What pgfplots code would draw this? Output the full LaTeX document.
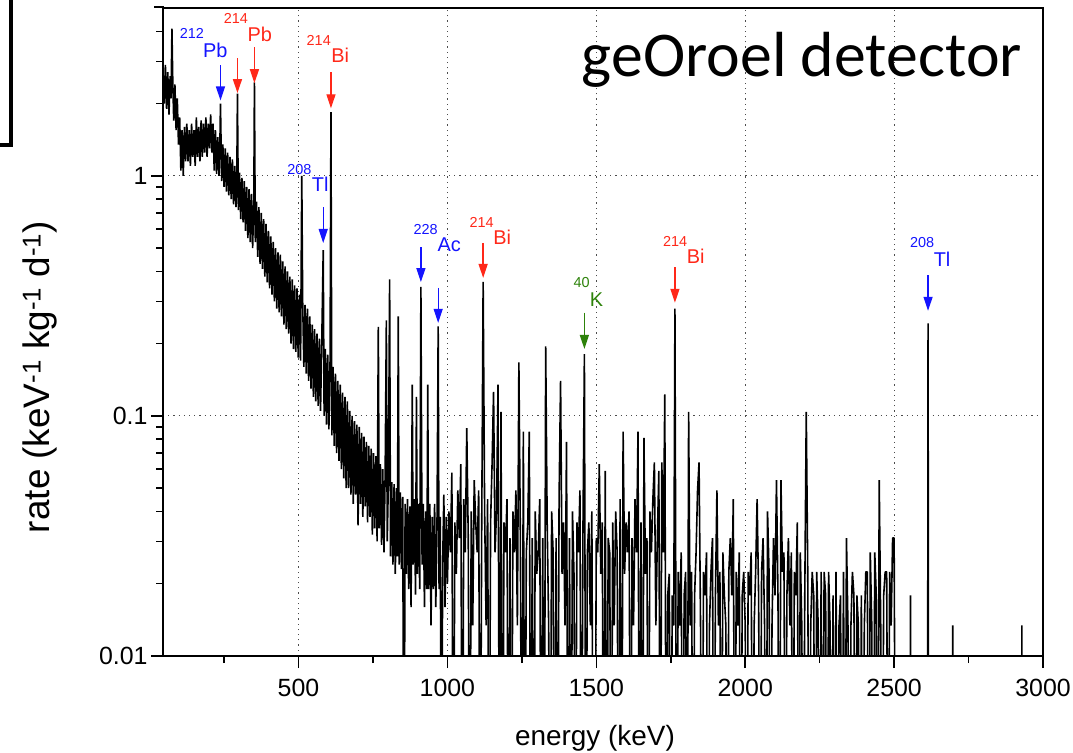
\documentclass[border=0pt]{standalone}
\usepackage{fontspec}
\setmainfont{Liberation Sans}
\newfontfamily\calibri{Carlito}
\usepackage{pgfplots}
\pgfplotsset{compat=1.18}
\usetikzlibrary{arrows.meta}
\definecolor{lblue}{RGB}{20,20,255}
\definecolor{lred}{RGB}{255,40,25}
\definecolor{lgreen}{RGB}{45,130,10}
\begin{document}
\begin{tikzpicture}[x=1bp,y=1bp]
\useasboundingbox (0,0) rectangle (1073,753);
\begin{axis}[
 at={(163bp,97bp)}, anchor=south west,
 width=880bp, height=648bp, scale only axis,
 xmin=45, xmax=3000, ymode=log, ymin=0.01, ymax=5,
 xtick={500,1000,1500,2000,2500,3000},
 xticklabels={500,1000,1500,2000,2500,3000},
 minor xtick={250,750,1250,1750,2250,2750},
 ytick={0.01,0.1,1}, yticklabels={0.01,0.1,1},
 minor ytick={0.02,0.03,0.04,0.05,0.06,0.07,0.08,0.09,0.2,0.3,0.4,0.5,0.6,0.7,0.8,0.9,2,3,4},
 tick pos=left, tick align=outside,
 major tick length=12bp, minor tick length=7bp,
 tick style={black, line width=1.5bp},
 axis line style={line width=1.8bp},
 grid=major, major grid style={gray!60!black, line width=1bp, dash pattern=on 1.2bp off 4bp},
 tick label style={font=\fontsize{25}{30}\selectfont},
 xticklabel style={yshift=-8bp},
 xlabel={energy (keV)},
 ylabel={rate (keV\textsuperscript{-1} kg\textsuperscript{-1} d\textsuperscript{-1})},
 xlabel style={font=\fontsize{28}{34}\selectfont, at={(axis description cs:0.4909,-0.1265)}, anchor=center},
 ylabel style={font=\fontsize{37}{42}\selectfont, at={(axis description cs:-0.1398,0.4306)}, anchor=center},
]
\addplot[black, line width=1.6bp, mark=none, line join=bevel] coordinates {
(45,2.7)(49,2.0)(53,2.9)(57,1.9)(61,2.7)(65,1.8)(69,2.6)(72,2.1)(75,4.1)(78,2.4)
(81,1.7)(85,2.4)(89,1.55)(93,2.1)(97,1.35)(101,1.75)(105,1.05)(109,1.55)(113,1.0)(117,1.6)
(121,1.15)(125,1.65)(129,1.15)(133,1.55)(137,1.1)(141,1.65)(145,1.2)(149,1.55)(153,1.1)(157,1.75)
(161,1.2)(165,1.6)(169,1.15)(173,1.7)(177,1.2)(181,1.65)(185,1.25)(189,1.75)(193,1.2)(197,1.65)
(201,1.3)(205,1.8)(209,1.25)(213,1.65)(217,1.05)(221,1.55)(225,1.02)(229,1.45)(233,1.0)(236,1.35)
(238,2.0)(242,0.95)(246,1.35)(250,0.9)(254,1.3)(258,0.86)(262,1.25)(266,0.83)(270,1.2)(274,0.8)
(278,1.17)(282,0.76)(286,1.1)(290,0.74)(293,1.05)(295,2.2)(298,0.72)(302,1.03)(306,0.66)(310,0.98)
(314,0.64)(318,0.95)(322,0.59)(326,0.9)(330,0.55)(334,0.88)(338,0.53)(342,0.84)(346,0.5)(350,0.8)
(352,2.45)(355,0.53)(359,0.78)(363,0.46)(367,0.74)(371,0.43)(375,0.7)(379,0.41)(383,0.66)(387,0.38)
(391,0.63)(395,0.36)(399,0.59)(403,0.34)(407,0.56)(411,0.32)(415,0.53)(419,0.3)(423,0.5)(427,0.28)
(431,0.48)(435,0.27)(439,0.47)(443,0.26)(447,0.44)(451,0.24)(455,0.42)(459,0.23)(463,0.4)(467,0.22)
(471,0.38)(475,0.2)(479,0.37)(483,0.19)(487,0.35)(491,0.185)(495,0.34)(499,0.175)(503,0.32)(507,0.17)
(511,1.0)(514,0.3)(518,0.16)(522,0.29)(526,0.15)(530,0.28)(534,0.14)(538,0.26)(542,0.13)(546,0.24)
(550,0.12)(554,0.23)(558,0.115)(562,0.22)(566,0.11)(570,0.21)(574,0.105)(578,0.2)(583,0.49)(586,0.1)
(590,0.19)(594,0.092)(598,0.18)(602,0.088)(606,0.17)(609,1.84)(612,0.083)(616,0.16)(620,0.075)(624,0.15)
(628,0.07)(632,0.14)(636,0.065)(640,0.135)(644,0.06)(648,0.125)(652,0.055)(656,0.12)(660,0.05)(664,0.115)
(668,0.05)(672,0.105)(676,0.047)(680,0.1)(684,0.043)(688,0.095)(692,0.047)(696,0.092)(700,0.035)(704,0.09)
(708,0.043)(712,0.085)(716,0.038)(720,0.082)(724,0.042)(728,0.078)(732,0.036)(736,0.075)(740,0.038)(744,0.073)
(748,0.032)(752,0.07)(756,0.034)(760,0.068)(764,0.03)(768,0.235)(771,0.034)(775,0.063)(779,0.029)(783,0.06)
(787,0.027)(791,0.058)(795,0.25)(798,0.03)(802,0.055)(806,0.37)(809,0.026)(813,0.053)(817,0.024)(821,0.052)
(825,0.022)(829,0.05)(832,0.026)(835,0.26)(838,0.024)(842,0.048)(846,0.023)(850,0.046)(854,0.001)(858,0.043)
(862,0.022)(866,0.045)(870,0.019)(874,0.042)(878,0.016)(882,0.135)(885,0.024)(889,0.045)(893,0.018)(896,0.12)
(899,0.022)(903,0.043)(907,0.019)(911,0.345)(915,0.024)(919,0.043)(923,0.016)(927,0.04)(931,0.019)(934,0.135)
(937,0.019)(941,0.043)(945,0.0134)(949,0.038)(953,0.019)(957,0.043)(961,0.016)(965,0.034)(969,0.236)(972,0.019)
(976,0.038)(980,0.001)(984,0.024)(988,0.047)(992,0.016)(996,0.038)(1000,0.02)
(1005,0.040)(1010,0.027)(1015,0.058)(1020,0.001)(1025,0.036)(1030,0.022)(1035,0.049)(1040,0.031)(1045,0.063)(1050,0.001)
(1055,0.045)(1060,0.027)(1065,0.089)(1070,0.031)(1075,0.001)(1080,0.040)(1085,0.0134)(1090,0.054)(1095,0.036)(1100,0.027)
(1105,0.049)(1110,0.001)(1115,0.031)(1120,0.362)(1125,0.040)(1130,0.0134)(1135,0.045)(1140,0.001)(1145,0.036)(1150,0.063)
(1155,0.126)(1160,0.027)(1165,0.040)(1170,0.135)(1175,0.001)(1180,0.104)(1185,0.001)(1190,0.036)(1195,0.027)(1200,0.045)
(1205,0.001)(1210,0.031)(1215,0.001)(1220,0.040)(1225,0.027)(1230,0.049)(1235,0.0134)(1240,0.167)(1245,0.031)(1250,0.001)
(1255,0.086)(1260,0.001)(1265,0.027)(1270,0.036)(1275,0.086)(1280,0.001)(1285,0.031)(1290,0.001)(1295,0.040)(1300,0.022)
(1305,0.027)(1310,0.045)(1315,0.001)(1320,0.031)(1325,0.001)(1330,0.195)(1335,0.036)(1340,0.0134)(1345,0.001)(1350,0.040)
(1355,0.027)(1360,0.001)(1365,0.031)(1370,0.001)(1375,0.045)(1380,0.140)(1385,0.022)(1390,0.036)(1395,0.0134)(1400,0.078)
(1405,0.001)(1410,0.031)(1415,0.001)(1420,0.040)(1425,0.022)(1430,0.001)(1435,0.036)(1440,0.027)(1445,0.049)(1450,0.001)
(1455,0.031)(1460,0.181)(1465,0.001)(1470,0.027)(1475,0.036)(1480,0.0134)(1485,0.040)(1490,0.001)(1495,0.001)(1500,0.031)
(1505,0.027)(1510,0.063)(1515,0.022)(1520,0.036)(1525,0.001)(1530,0.059)(1535,0.001)(1540,0.031)(1545,0.027)(1550,0.001)
(1555,0.036)(1560,0.0134)(1565,0.040)(1570,0.027)(1575,0.001)(1580,0.045)(1585,0.001)(1590,0.086)(1595,0.022)(1600,0.036)
(1605,0.027)(1610,0.040)(1615,0.001)(1620,0.031)(1625,0.0134)(1630,0.045)(1635,0.027)(1640,0.086)(1645,0.001)(1650,0.036)
(1655,0.001)(1660,0.081)(1665,0.022)(1670,0.031)(1675,0.001)(1680,0.040)(1685,0.027)(1690,0.045)(1695,0.064)(1700,0.0134)
(1705,0.031)(1710,0.059)(1715,0.001)(1720,0.064)(1725,0.027)(1730,0.123)(1735,0.001)(1740,0.018)(1745,0.022)(1750,0.001)
(1755,0.0179)(1760,0.0134)(1764,0.28)(1770,0.001)(1775,0.0224)(1780,0.0134)(1785,0.027)(1790,0.001)(1795,0.0179)(1800,0.0224)
(1805,0.001)(1810,0.104)(1815,0.0134)(1820,0.0224)(1825,0.001)(1830,0.0179)(1835,0.027)(1840,0.049)(1845,0.064)(1850,0.0134)
(1855,0.001)(1860,0.0224)(1865,0.0179)(1870,0.027)(1875,0.001)(1880,0.0134)(1885,0.0224)(1890,0.031)(1895,0.001)(1900,0.0179)
(1905,0.049)(1910,0.0134)(1915,0.0224)(1920,0.001)(1925,0.027)(1930,0.0179)(1935,0.0134)(1940,0.001)(1945,0.0224)(1950,0.031)
(1955,0.0179)(1960,0.045)(1965,0.001)(1970,0.0224)(1975,0.0134)(1980,0.027)(1985,0.001)(1990,0.0179)(1995,0.0224)(2000,0.0134)
(2005,0.001)(2010,0.0224)(2015,0.0179)(2020,0.027)(2025,0.001)(2030,0.0134)(2035,0.0224)(2040,0.045)(2045,0.0179)(2050,0.001)
(2055,0.0224)(2060,0.031)(2065,0.0134)(2070,0.001)(2075,0.040)(2080,0.0224)(2085,0.001)(2090,0.0134)(2095,0.031)(2100,0.0179)
(2105,0.054)(2110,0.0179)(2115,0.001)(2120,0.054)(2125,0.0224)(2130,0.027)(2135,0.001)(2140,0.0179)(2145,0.031)(2150,0.0134)
(2155,0.027)(2160,0.001)(2165,0.0224)(2170,0.0179)(2175,0.036)(2180,0.001)(2185,0.027)(2190,0.0134)(2195,0.001)(2200,0.0179)
(2205,0.104)(2210,0.0224)(2215,0.001)(2220,0.0134)(2225,0.0224)(2230,0.0179)(2235,0.001)(2240,0.0224)(2245,0.0134)(2250,0.001)
(2255,0.0224)(2260,0.001)(2265,0.0224)(2270,0.0179)(2275,0.001)(2280,0.0224)(2285,0.0134)(2290,0.001)(2295,0.0179)(2300,0.001)
(2305,0.0224)(2310,0.001)(2315,0.0134)(2320,0.0179)(2325,0.001)(2330,0.0224)(2335,0.001)(2340,0.031)(2345,0.0134)(2350,0.001)
(2355,0.0134)(2360,0.0224)(2365,0.0179)(2370,0.001)(2375,0.0179)(2380,0.0134)(2385,0.001)(2390,0.0179)(2395,0.001)(2400,0.0134)
(2405,0.0224)(2410,0.0224)(2415,0.001)(2420,0.027)(2425,0.0134)(2430,0.001)(2435,0.027)(2440,0.0179)(2445,0.001)(2450,0.054)
(2455,0.0134)(2460,0.001)(2465,0.0179)(2470,0.0224)(2475,0.0224)(2480,0.001)(2485,0.0224)(2490,0.0134)(2495,0.031)(2500,0.031)
(2505,0.001)(2552,0.001)(2555,0.0179)(2558,0.001)(2612,0.001)(2614,0.243)(2616,0.001)(2695,0.001)(2697,0.0134)(2699,0.001)
(2927,0.001)(2929,0.0134)(2931,0.001)(3000,0.001)
};
% annotations
\tikzset{numlab/.style={inner sep=0, font=\fontsize{14.5}{16}\selectfont},
         ellab/.style={inner sep=0, font=\fontsize{20}{22}\selectfont},
         pk/.style={line width=1.3bp, -{Triangle[length=14bp,width=9bp]}}}
\node[numlab, lblue] at (axis cs:141.8,3.92) {212};
\node[ellab, lblue] at (axis cs:220.7,3.33) {Pb};
\draw[pk, lblue] (axis cs:238,2.89) -- (axis cs:238,2.06);
\node[numlab, lred] at (axis cs:289.5,4.53) {214};
\node[ellab, lred] at (axis cs:370,3.88) {Pb};
\draw[pk, lred] (axis cs:295,3.09) -- (axis cs:295,2.21);
\draw[pk, lred] (axis cs:352,3.43) -- (axis cs:352,2.43);
\node[numlab, lred] at (axis cs:568,3.67) {214};
\node[ellab, lred] at (axis cs:640,3.19) {Bi};
\draw[pk, lred] (axis cs:609,2.70) -- (axis cs:609,1.91);
\node[numlab, lblue] at (axis cs:502.7,1.066) {208};
\node[ellab, lblue] at (axis cs:573,0.919) {Tl};
\draw[pk, lblue] (axis cs:583,0.741) -- (axis cs:583,0.525);
\node[numlab, lblue] at (axis cs:927,0.597) {228};
\node[ellab, lblue] at (axis cs:1006,0.5176) {Ac};
\draw[pk, lblue] (axis cs:911,0.505) -- (axis cs:911,0.361);
\draw[pk, lblue] (axis cs:969,0.341) -- (axis cs:969,0.244);
\node[numlab, lred] at (axis cs:1115,0.639) {214};
\node[ellab, lred] at (axis cs:1184,0.553) {Bi};
\draw[pk, lred] (axis cs:1120,0.525) -- (axis cs:1120,0.3755);
\node[numlab, lgreen] at (axis cs:1451,0.358) {40};
\node[ellab, lgreen] at (axis cs:1501,0.306) {K};
\draw[pk, lgreen] (axis cs:1460,0.269) -- (axis cs:1460,0.190);
\node[numlab, lred] at (axis cs:1765,0.532) {214};
\node[ellab, lred] at (axis cs:1834,0.461) {Bi};
\draw[pk, lred] (axis cs:1764,0.417) -- (axis cs:1764,0.296);
\node[numlab, lblue] at (axis cs:2594,0.525) {208};
\node[ellab, lblue] at (axis cs:2661,0.450) {Tl};
\draw[pk, lblue] (axis cs:2614,0.386) -- (axis cs:2614,0.274);
\end{axis}
\node[anchor=base east, inner sep=0, font=\calibri\fontsize{64}{70}\selectfont] at (1022,676) {geOroel detector};
\draw[line width=4bp, line join=miter] (10.5,753) -- (10.5,608) -- (0,608);
\draw[line width=2bp] (154,746) -- (164,746);
\end{tikzpicture}
\end{document}
